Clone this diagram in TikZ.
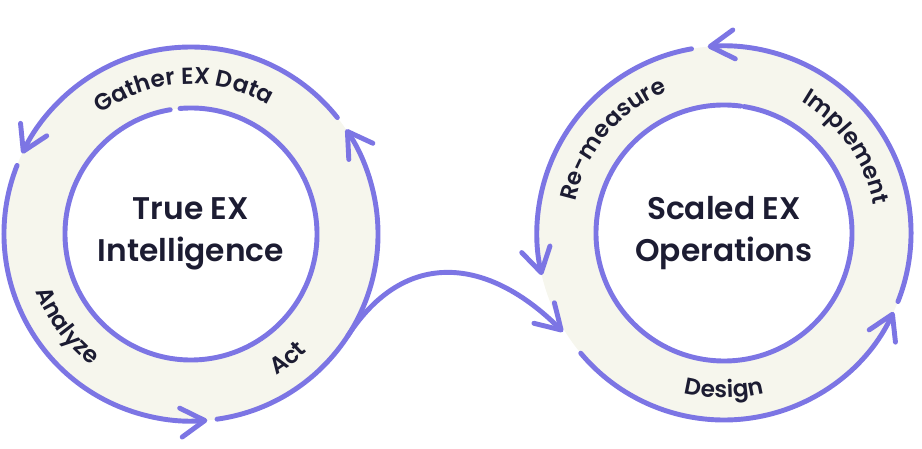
\documentclass[tikz,border=0pt]{standalone}
\usepackage{fontspec}
\setmainfont{Poppins}
\IfFontExistsTF{Poppins SemiBold}{\newfontfamily\hubfont{Poppins SemiBold}}{\newcommand\hubfont{\bfseries}}
\usepackage{tikz}
\usetikzlibrary{arrows.meta, calc, decorations.text}
\definecolor{myviolet}{RGB}{124,117,228}
\definecolor{mycream}{RGB}{246,246,237}
\definecolor{mydark}{RGB}{28,28,50}
\newcommand{\arcfont}{\hubfont\fontsize{13.2}{16}\selectfont\color{mydark}}
\tikzset{
  ring/.style={fill=mycream, even odd rule},
  line/.style={line width=2.8pt, color=myviolet, line cap=round},
  arrow/.style={line, -{Straight Barb[length=0.48cm, width=0.58cm, round]}},
  hub/.style={align=center, text=mydark, inner sep=0pt,
    font=\hubfont\fontsize{17.8}{24}\selectfont},
  arclabel/.style={decorate, decoration={text along path, text align=center, text={#1}}}
}

\begin{document}
\begin{tikzpicture}[x=0.02cm, y=0.02cm]
  \useasboundingbox (0,0) rectangle (922,449);
  \coordinate (L) at (191,215);
  \coordinate (R) at (724,216);

  % cream bands
  \fill[ring] (L) circle[radius=187] (L) circle[radius=126];
  \fill[ring] (R) circle[radius=187] (R) circle[radius=128];

  % inner circles, small gap at the top
  \draw[line] ($(L)+(99.5:126)$) arc[start angle=99.5, end angle=455, radius=126];
  \draw[line] ($(R)+(82.5:128)$) arc[start angle=82.5, end angle=441, radius=128];

  % left cycle
  \draw[arrow] ($(L)+(38.5:187)$) arc[start angle=38.5, end angle=154.5, radius=187];
  \draw[arrow] ($(L)+(158.5:187)$) arc[start angle=158.5, end angle=275, radius=187];
  \draw[arrow] ($(L)+(-82:187)$) arc[start angle=-82, end angle=34, radius=187];

  % right cycle
  \draw[arrow] ($(R)+(-21.5:187)$) arc[start angle=-21.5, end angle=95, radius=187];
  \draw[arrow] ($(R)+(100:187)$) arc[start angle=100, end angle=193, radius=187];
  \draw[arrow] ($(R)+(220:187)$) arc[start angle=220, end angle=335, radius=187];

  % link between the two cycles
  \coordinate (actOut) at ($(L)+(-33:187)$);
  \coordinate (designIn) at ($(R)+(211.5:189)$);
  \draw[arrow] (actOut) to[out=57, in=135, looseness=1.25] (designIn);

  % ring labels
  \path[arclabel={|\arcfont|Gather EX Data}] ($(L)+(153:150)$) arc[start angle=153, end angle=33, radius=150];
  \path[arclabel={|\arcfont|Analyze}] ($(L)+(176:165)$) arc[start angle=176, end angle=257, radius=165];
  \path[arclabel={|\arcfont|Act}] ($(L)+(-92:165)$) arc[start angle=-92, end angle=-12, radius=165];
  \path[arclabel={|\arcfont|Re-measure}] ($(R)+(190:152)$) arc[start angle=190, end angle=90, radius=152];
  \path[arclabel={|\arcfont|Implement}] ($(R)+(85:152)$) arc[start angle=85, end angle=-15, radius=152];
  \path[arclabel={|\arcfont|Design}] ($(R)+(230:165)$) arc[start angle=230, end angle=310, radius=165];

  \node[hub] (truehub) at (L) {True EX\\Intelligence};
  \node[hub] (scaledhub) at (R) {Scaled EX\\Operations};
\end{tikzpicture}
\end{document}
